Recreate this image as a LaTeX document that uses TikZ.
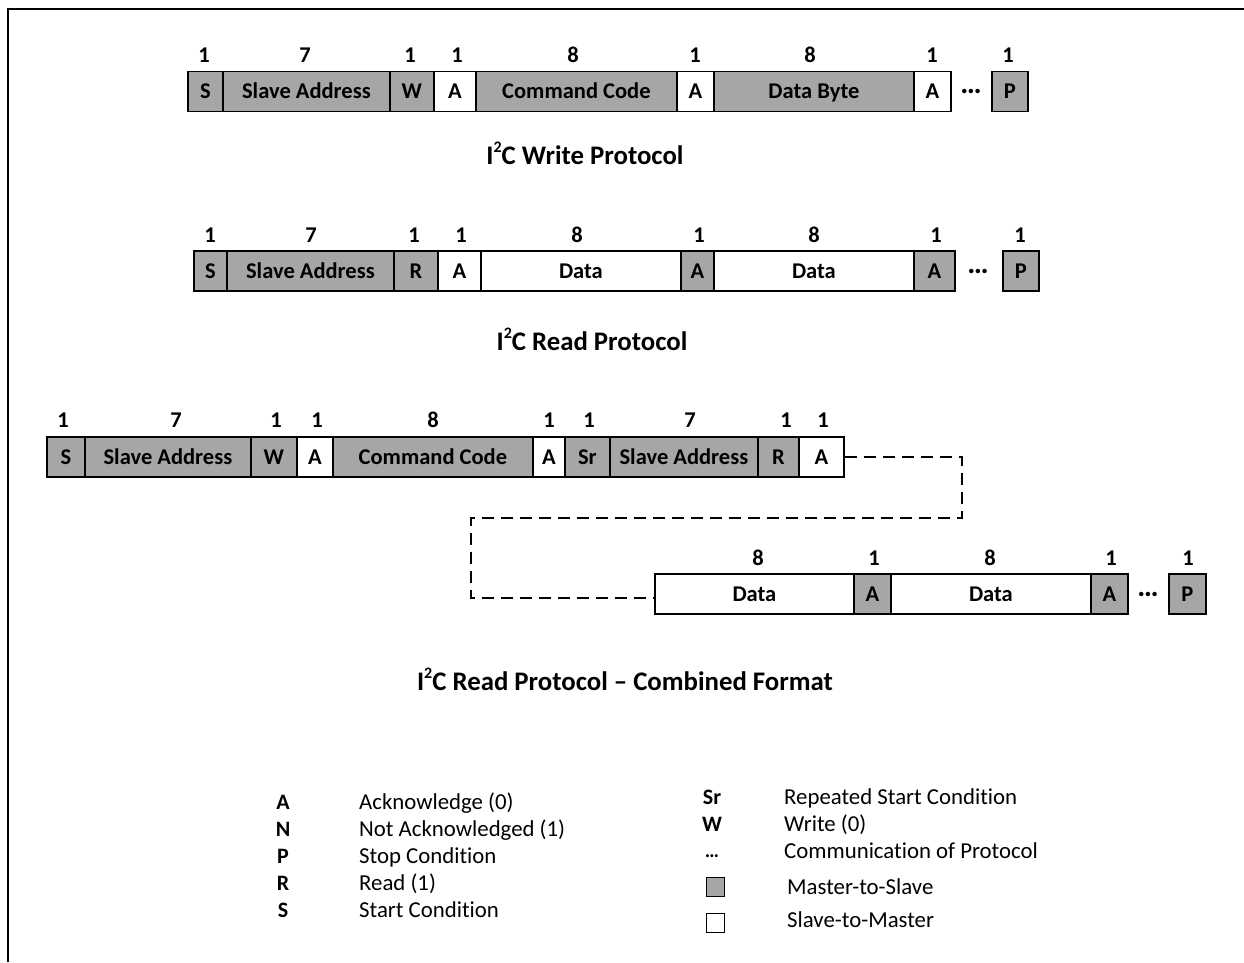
\documentclass[tikz,border=0pt]{standalone}
\usepackage{fontspec}
\setmainfont{Carlito}[Ligatures=NoCommon]
\usetikzlibrary{positioning}
\definecolor{mgray}{RGB}{166,166,166}
\newcommand\supii{\raisebox{0.45em}{\fontsize{16}{16}\selectfont 2}}
\begin{document}
\begin{tikzpicture}[x=1pt,y=-1pt,
  fld/.style={draw=black, line width=1.8pt, minimum height=40pt, inner sep=0pt,
    anchor=west, font=\fontsize{22.5}{22.5}\selectfont\bfseries, text height=14.5pt, text depth=0pt},
  ms/.style={fld, fill=mgray},
  sm/.style={fld, fill=white},
  num/.style={inner sep=0pt, font=\fontsize{22.5}{22.5}\selectfont\bfseries},
  dotsn/.style={inner sep=0pt, font=\fontsize{30}{30}\selectfont\bfseries},
  ttl/.style={inner sep=0pt, font=\fontsize{26.8}{26.8}\selectfont\bfseries},
  lkey/.style={inner sep=0pt, anchor=base, font=\fontsize{22}{22}\selectfont\bfseries},
  ltxt/.style={inner sep=0pt, anchor=base west, font=\fontsize{22.8}{22.8}\selectfont},
  sq/.style={draw=black, line width=0.8pt, minimum width=18pt, minimum height=19pt, inner sep=0pt},
  conn/.style={draw=black, line width=1.8pt, dash pattern=on 12pt off 7pt}
]
\useasboundingbox (0,0) rectangle (1244,962);
\draw[line width=2pt] (8,962) -- (8,9) -- (1244,9);

% ---------- Row 1: write protocol
\node[ms, minimum width=35pt]  (r1s)  at (187,91.5) {S};
\node[ms, minimum width=167pt] (r1sa) at (222,91.5) {Slave Address};
\node[ms, minimum width=44pt]  (r1w)  at (389,91.5) {W};
\node[sm, minimum width=42pt]  (r1a1) at (433,91.5) {A};
\node[ms, minimum width=201pt] (r1cc) at (475,91.5) {Command Code};
\node[sm, minimum width=37pt]  (r1a2) at (676,91.5) {A};
\node[ms, minimum width=200pt] (r1db) at (713,91.5) {Data Byte};
\node[sm, minimum width=37pt]  (r1a3) at (913,91.5) {A};
\node[dotsn] (r1dots) at (971,91.5) {…};
\node[ms, minimum width=36pt]  (r1p)  at (991,91.5) {P};
\node[num] (n1a) at (204,55) {1};
\node[num] (n1b) at (305,55) {7};
\node[num] (n1c) at (410,55) {1};
\node[num] (n1d) at (457,55) {1};
\node[num] (n1e) at (573,55) {8};
\node[num] (n1f) at (695,55) {1};
\node[num] (n1g) at (810,55) {8};
\node[num] (n1h) at (932,55) {1};
\node[num] (n1i) at (1008,55) {1};
\node[ttl] (t1) at (585,153) {I\supii C Write Protocol};

% ---------- Row 2: read protocol
\node[ms, minimum width=33pt]  (r2s)  at (193,271) {S};
\node[ms, minimum width=167pt] (r2sa) at (226,271) {Slave Address};
\node[ms, minimum width=44pt]  (r2r)  at (393,271) {R};
\node[sm, minimum width=43pt]  (r2a1) at (437,271) {A};
\node[sm, minimum width=200pt] (r2d1) at (480,271) {Data};
\node[ms, minimum width=33pt]  (r2a2) at (680,271) {A};
\node[sm, minimum width=200pt] (r2d2) at (713,271) {Data};
\node[ms, minimum width=41pt]  (r2a3) at (913,271) {A};
\node[dotsn] (r2dots) at (978,271) {…};
\node[ms, minimum width=36pt]  (r2p)  at (1002,271) {P};
\node[num] (n2a) at (210,235) {1};
\node[num] (n2b) at (311,235) {7};
\node[num] (n2c) at (414,235) {1};
\node[num] (n2d) at (461,235) {1};
\node[num] (n2e) at (577,235) {8};
\node[num] (n2f) at (699,235) {1};
\node[num] (n2g) at (814,235) {8};
\node[num] (n2h) at (936,235) {1};
\node[num] (n2i) at (1020,235) {1};
\node[ttl] (t2) at (592,339) {I\supii C Read Protocol};

% ---------- Row 3: combined format
\node[ms, minimum width=38pt]  (r3s)  at (46,457) {S};
\node[ms, minimum width=166pt] (r3sa) at (84,457) {Slave Address};
\node[ms, minimum width=46pt]  (r3w)  at (250,457) {W};
\node[sm, minimum width=36pt]  (r3a1) at (296,457) {A};
\node[ms, minimum width=200pt] (r3cc) at (332,457) {Command Code};
\node[sm, minimum width=32pt]  (r3a2) at (532,457) {A};
\node[ms, minimum width=45pt]  (r3sr) at (564,457) {Sr};
\node[ms, minimum width=148pt] (r3sb) at (609,457) {Slave Address};
\node[ms, minimum width=41pt]  (r3r)  at (757,457) {R};
\node[sm, minimum width=45pt]  (r3a3) at (798,457) {A};
\node[num] (n3a) at (63,420) {1};
\node[num] (n3b) at (176,420) {7};
\node[num] (n3c) at (276,420) {1};
\node[num] (n3d) at (317,420) {1};
\node[num] (n3e) at (433,420) {8};
\node[num] (n3f) at (549,420) {1};
\node[num] (n3g) at (589,420) {1};
\node[num] (n3h) at (690,420) {7};
\node[num] (n3i) at (786,420) {1};
\node[num] (n3j) at (823,420) {1};

\node[sm, minimum width=199pt] (r4d1) at (654,594) {Data};
\node[ms, minimum width=37pt]  (r4a1) at (853,594) {A};
\node[sm, minimum width=200pt] (r4d2) at (890,594) {Data};
\node[ms, minimum width=37pt]  (r4a2) at (1090,594) {A};
\node[dotsn] (r4dots) at (1148,594) {…};
\node[ms, minimum width=37pt]  (r4p)  at (1168,594) {P};
\node[num] (n4a) at (758,558) {8};
\node[num] (n4b) at (874,558) {1};
\node[num] (n4c) at (990,558) {8};
\node[num] (n4d) at (1111,558) {1};
\node[num] (n4e) at (1188,558) {1};

\coordinate (k1) at (962,518);
\coordinate (k2) at (471,598);
\draw[conn] (r3a3.east) -| (k1) -| (k2) -- (k2 -| r4d1.west);

\node[ttl] (t3) at (625,679) {I\supii C Read Protocol – Combined Format};

% ---------- Legend
\node[lkey] (kA) at (283,809.5) {A};
\node[lkey] (kN) at (283,836.5) {N};
\node[lkey] (kP) at (283,863.5) {P};
\node[lkey] (kR) at (283,890.5) {R};
\node[lkey] (kS) at (283,917.5) {S};
\node[ltxt] (lA) at (359,809.5) {Acknowledge (0)};
\node[ltxt] (lN) at (359,836.5) {Not Acknowledged (1)};
\node[ltxt] (lP) at (359,863.5) {Stop Condition};
\node[ltxt] (lR) at (359,890.5) {Read (1)};
\node[ltxt] (lS) at (359,917.5) {Start Condition};

\node[lkey] (kSr) at (712,804.5) {Sr};
\node[lkey] (kW) at (712,831.5) {W};
\node[dotsn, font=\fontsize{20}{20}\selectfont\bfseries] (kD) at (712,856) {…};
\node[ltxt] (lSr) at (784,804.5) {Repeated Start Condition};
\node[ltxt] (lW) at (784,831.5) {Write (0)};
\node[ltxt] (lD) at (784,858.5) {Communication of Protocol};
\node[sq, fill=mgray] (qM) at (715,887) {};
\node[sq, fill=white] (qS) at (715,923) {};
\node[ltxt] (lM) at (787,894) {Master-to-Slave};
\node[ltxt] (lSm) at (787,927.5) {Slave-to-Master};
\end{tikzpicture}
\end{document}
